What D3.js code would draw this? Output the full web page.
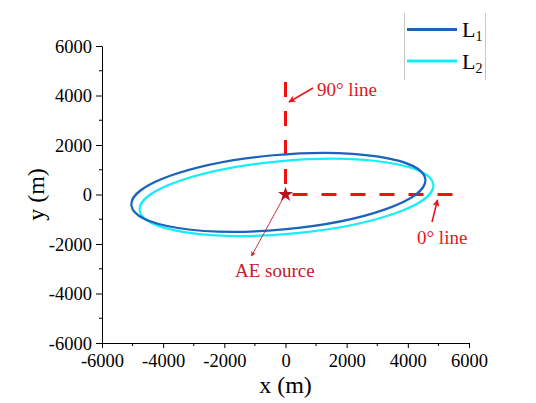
<!DOCTYPE html>
<html>
<head>
<meta charset="utf-8">
<script src="https://cdn.jsdelivr.net/npm/d3@7/dist/d3.min.js"></script>
<style>
  html, body { margin: 0; padding: 0; background: #fff; }
  svg { display: block; }
  svg text { font-family: "Liberation Serif", "Times New Roman", serif; }
</style>
</head>
<body>
<svg id="chart" width="536" height="403"></svg>
<script>
// ---- data ----
const xTicks = [-6000, -4000, -2000, 0, 2000, 4000, 6000];
const yTicks = [-6000, -4000, -2000, 0, 2000, 4000, 6000];
const seriesNames = ["L1", "L2"];
// fitted ellipse parameters (data units, degrees)
const ellipseCx = [-233, 33];
const ellipseCy = [88, -118];
const ellipseA = [4835, 4830];
const ellipseB = [1507, 1475];
const ellipseAngle = [6.4, 6.3];
const source = [0, 0];
const line90 = [[0, 4544], [0, 0]];
const line0 = [[229, 0], [5520, 0]];

const svg = d3.select("#chart");
const W = 536, H = 403;
const m = { left: 102, right: 67, top: 46, bottom: 60 };
const x = d3.scaleLinear().domain([-6000, 6000]).range([m.left, W - m.right]);
const y = d3.scaleLinear().domain([-6000, 6000]).range([H - m.bottom, m.top]);

const colors = { L1: "#1b63bd", L2: "#14eef8" };
const serif = "'Liberation Serif', 'Times New Roman', serif";
const fmt = d => String(d);

// defs: arrow markers
const defs = svg.append("defs");
function marker(id, color, w, h) {
  defs.append("marker").attr("id", id).attr("viewBox", "0 0 10 10")
    .attr("refX", 9).attr("refY", 5).attr("markerWidth", w).attr("markerHeight", h)
    .attr("markerUnits", "userSpaceOnUse").attr("orient", "auto")
    .append("path").attr("d", "M0,0 L10,5 L0,10 L2.5,5 Z").attr("fill", color);
}
marker("arrRed", "#e8141c", 9, 7);
marker("arrDark", "#c0202a", 7, 5);

// axes
const fontTick = 18.5;
const xAxis = d3.axisBottom(x).tickValues(xTicks).tickSize(5).tickSizeOuter(0).tickFormat(fmt);
const gx = svg.append("g").attr("transform", `translate(0,${H - m.bottom})`).call(xAxis)
  .attr("font-family", null).attr("font-size", null);
gx.selectAll("text").style("font-family", serif).style("font-size", fontTick + "px")
  .attr("fill", "#000").attr("y", 9).attr("dy", "0.8em");
gx.selectAll("path, line").attr("stroke", "#000").attr("stroke-width", 1);
const xMinor = d3.range(-5000, 6000, 2000);
gx.selectAll(".minor").data(xMinor).enter().append("line")
  .attr("x1", d => x(d)).attr("x2", d => x(d)).attr("y1", 0).attr("y2", 3).attr("stroke", "#000");

const yAxis = d3.axisLeft(y).tickValues(yTicks).tickSize(6).tickSizeOuter(0).tickFormat(fmt);
const gy = svg.append("g").attr("transform", `translate(${m.left},0)`).call(yAxis)
  .attr("font-family", null).attr("font-size", null);
gy.selectAll("text").style("font-family", serif).style("font-size", fontTick + "px")
  .attr("fill", "#000").attr("x", -10).attr("dy", "0.34em");
gy.selectAll("path, line").attr("stroke", "#000").attr("stroke-width", 1);
const yMinor = d3.range(-5000, 6000, 2000);
gy.selectAll(".minor").data(yMinor).enter().append("line")
  .attr("y1", d => y(d)).attr("y2", d => y(d)).attr("x1", 0).attr("x2", -3).attr("stroke", "#000");

// axis titles
svg.append("text").attr("x", x(0)).attr("y", 393).attr("text-anchor", "middle")
  .style("font-size", "24px").text("x (m)");
svg.append("text").attr("transform", `translate(44,${y(0)}) rotate(-90)`).attr("text-anchor", "middle")
  .style("font-size", "24px").text("y (m)");

// reference dashed lines
const ln = d3.line().x(d => x(d[0])).y(d => y(d[1]));
[line90, line0].forEach(pts => {
  svg.append("path").attr("d", ln(pts)).attr("fill", "none")
    .attr("stroke", "#f01010").attr("stroke-width", 3).attr("stroke-dasharray", "15,14");
});

// ellipses (drawn in data space through the scales)
const kx = x(1) - x(0), ky = y(0) - y(1);
const order = [1, 0]; // L2 below, L1 on top
order.forEach(i => {
  svg.append("g")
    .attr("transform", `translate(${x(ellipseCx[i])},${y(ellipseCy[i])}) scale(${kx},${-ky}) rotate(${ellipseAngle[i]})`)
    .append("ellipse").attr("cx", 0).attr("cy", 0).attr("rx", ellipseA[i]).attr("ry", ellipseB[i])
    .attr("fill", "none").attr("stroke", colors[seriesNames[i]]).attr("stroke-width", 2.2)
    .attr("vector-effect", "non-scaling-stroke");
});

// AE source star
svg.append("path").attr("d", d3.symbol().type(d3.symbolStar).size(70)())
  .attr("transform", `translate(${x(source[0])},${y(source[1])})`).attr("fill", "#b5121b");

// annotations
svg.append("line").attr("x1", x(source[0]) - 2).attr("y1", y(source[1]) + 3)
  .attr("x2", 251.5).attr("y2", 256).attr("stroke", "#c0202a").attr("stroke-width", 0.9)
  .attr("marker-end", "url(#arrDark)");
svg.append("text").attr("x", 235).attr("y", 277).style("font-size", "19px").attr("fill", "#c0202a").text("AE source");

svg.append("line").attr("x1", 313).attr("y1", 88).attr("x2", 289).attr("y2", 102)
  .attr("stroke", "#e8141c").attr("stroke-width", 1.5).attr("marker-end", "url(#arrRed)");
svg.append("text").attr("x", 317).attr("y", 96).style("font-size", "19px").attr("fill", "#e8141c").text("90° line");

svg.append("line").attr("x1", 432).attr("y1", 222).attr("x2", 437.5).attr("y2", 200)
  .attr("stroke", "#e8141c").attr("stroke-width", 1.5).attr("marker-end", "url(#arrRed)");
svg.append("text").attr("x", 417).attr("y", 244).style("font-size", "19px").attr("fill", "#e8141c").text("0° line");

// legend
const lg = svg.append("g");
lg.append("line").attr("x1", 404.5).attr("x2", 404.5).attr("y1", 13).attr("y2", 80).attr("stroke", "#c8c8c8");
lg.append("line").attr("x1", 485.5).attr("x2", 485.5).attr("y1", 13).attr("y2", 80).attr("stroke", "#c8c8c8");
seriesNames.forEach((n, i) => {
  const yy = 29.5 + i * 31.5;
  lg.append("line").attr("x1", 407).attr("x2", 457).attr("y1", yy).attr("y2", yy)
    .attr("stroke", colors[n]).attr("stroke-width", 3);
  const t = lg.append("text").attr("x", 462).attr("y", yy + 7.5).style("font-size", "22px").attr("fill", "#000");
  t.append("tspan").text(n.charAt(0));
  t.append("tspan").style("font-size", "14px").attr("dy", 4).text(n.slice(1));
});
</script>
</body>
</html>
